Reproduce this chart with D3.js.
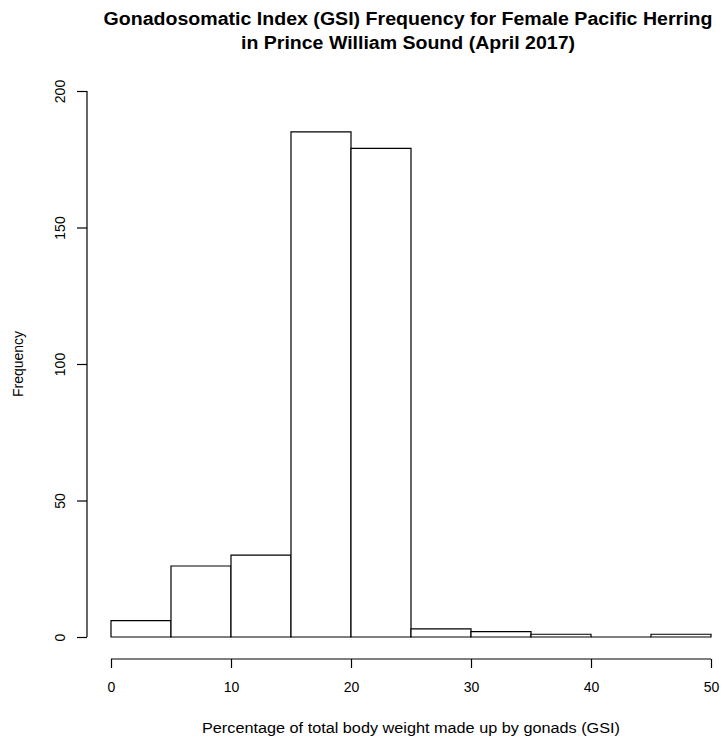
<!DOCTYPE html>
<html>
<head>
<meta charset="utf-8">
<script src="https://cdn.jsdelivr.net/npm/d3@7"></script>
<style>
  body { margin: 0; background: #fff; }
  text { font-family: "Liberation Sans", Arial, sans-serif; fill: #000; }
</style>
</head>
<body>
<svg id="chart" width="724" height="740"></svg>
<script>
// histogram bins (GSI %), counts
const binStarts = [0, 5, 10, 15, 20, 25, 30, 35, 40, 45]
const binWidth = 5
const counts = [6, 26, 30, 185, 179, 3, 2, 1, 0, 1]
const xTicks = [0, 10, 20, 30, 40, 50]
const yTicks = [0, 50, 100, 150, 200]

const titleLines = [
  'Gonadosomatic Index (GSI) Frequency for Female Pacific Herring',
  'in Prince William Sound (April 2017)'
]
const xLabel = 'Percentage of total body weight made up by gonads (GSI)'
const yLabel = 'Frequency'

const svg = d3.select('#chart')

const x = d3.scaleLinear().domain([0, 50]).range([111, 711])
const y = d3.scaleLinear().domain([0, 200]).range([637, 91])

// bars as closed paths so an empty bin still shows as a line on the base
svg.append('g')
  .selectAll('path')
  .data(binStarts.map((s, i) => ({ s, n: counts[i] })))
  .enter()
  .append('path')
  .attr('d', d => `M${x(d.s)},${y(0)}V${y(d.n)}H${x(d.s + binWidth)}V${y(0)}Z`)
  .attr('fill', '#fff')
  .attr('stroke', '#000')
  .attr('stroke-width', 1.2)

// x axis, offset below the bars like base R
const xAxis = svg.append('g')
  .attr('transform', 'translate(0,659)')
  .call(d3.axisBottom(x).tickValues(xTicks).tickSize(9).tickPadding(14).tickFormat(d3.format('d')))
xAxis.select('.domain').attr('d', `M${x(0)},0H${x(50)}`)
xAxis.selectAll('text').attr('font-size', 14).style('font-family', '"Liberation Sans", Arial, sans-serif')

// y axis
const yAxis = svg.append('g')
  .attr('transform', 'translate(87,0)')
  .call(d3.axisLeft(y).tickValues(yTicks).tickSize(10).tickFormat(d3.format('d')))
yAxis.select('.domain').attr('d', `M0,${y(0)}V${y(200)}`)
yAxis.selectAll('.tick text')
  .attr('font-size', 14)
  .style('font-family', '"Liberation Sans", Arial, sans-serif')
  .attr('text-anchor', 'middle')
  .attr('x', 0)
  .attr('dy', 0)
  .attr('transform', 'translate(-22,0) rotate(-90)')

svg.selectAll('.domain, .tick line').attr('stroke', '#000').attr('stroke-width', 1.2)

// axis titles
svg.append('text')
  .attr('x', 411)
  .attr('y', 733)
  .attr('text-anchor', 'middle')
  .attr('font-size', 14)
  .attr('textLength', 418)
  .attr('lengthAdjust', 'spacingAndGlyphs')
  .text(xLabel)

svg.append('text')
  .attr('transform', 'translate(23,364) rotate(-90)')
  .attr('text-anchor', 'middle')
  .attr('font-size', 14)
  .text(yLabel)

// title
svg.append('g')
  .selectAll('text')
  .data(titleLines)
  .enter()
  .append('text')
  .attr('x', 408)
  .attr('y', (d, i) => 25 + i * 24)
  .attr('text-anchor', 'middle')
  .attr('font-size', 18)
  .attr('font-weight', 'bold')
  .attr('textLength', (d, i) => i === 0 ? 609 : 334)
  .attr('lengthAdjust', 'spacingAndGlyphs')
  .text(d => d)
</script>
</body>
</html>
